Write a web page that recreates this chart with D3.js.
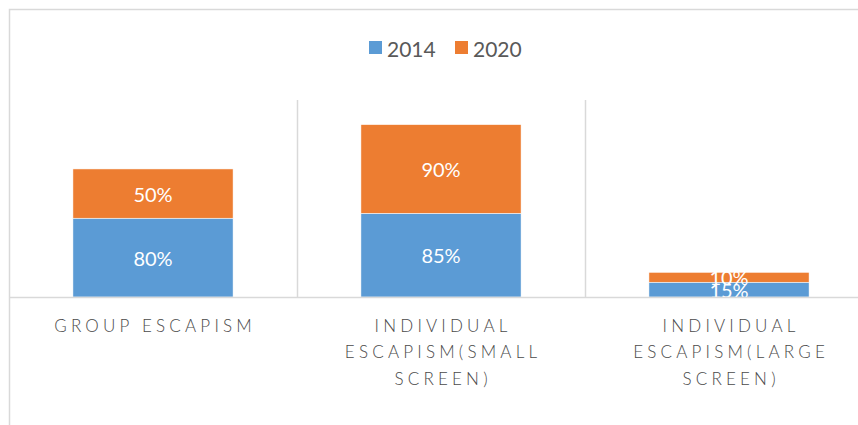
<!DOCTYPE html>
<html>
<head>
<meta charset="utf-8">
<script src="https://cdn.jsdelivr.net/npm/d3@7"></script>
<style>
  body { margin: 0; background: #fff; }
  svg { display: block; font-family: Lato, "Open Sans", sans-serif; }
</style>
</head>
<body>
<div id="chart"></div>
<script>
// chart data
const categories = ["GROUP ESCAPISM", "INDIVIDUAL ESCAPISM(SMALL SCREEN)", "INDIVIDUAL ESCAPISM(LARGE SCREEN)"];
const categoryLines = [
  ["GROUP ESCAPISM"],
  ["INDIVIDUAL", "ESCAPISM(SMALL", "SCREEN)"],
  ["INDIVIDUAL", "ESCAPISM(LARGE", "SCREEN)"]
];
const seriesNames = ["2014", "2020"];
const values2014 = [0.80, 0.85, 0.15];
const values2020 = [0.50, 0.90, 0.10];
const colors = ["#5b9bd5", "#ed7d31"];

const width = 858, height = 425;
const plot = { left: 9, right: 873, top: 100, bottom: 297 };

const svg = d3.select("#chart").append("svg")
  .attr("width", width)
  .attr("height", height);

// chart area border (runs off the right/bottom edge like the original)
svg.append("rect")
  .attr("x", 9.5).attr("y", 9.5)
  .attr("width", 900).attr("height", 500)
  .attr("fill", "none")
  .attr("stroke", "#d9d9d9")
  .attr("stroke-width", 1.5);

const x = d3.scaleBand()
  .domain(categories)
  .range([plot.left, plot.right])
  .paddingInner(0.444)
  .paddingOuter(0.222);

const xCell = d3.scaleBand()
  .domain(categories)
  .range([plot.left, plot.right])
  .padding(0);

const y = d3.scaleLinear()
  .domain([0, 2])
  .range([plot.bottom, plot.top]);

// category separators
svg.append("g")
  .selectAll("line")
  .data(categories.slice(1))
  .join("line")
  .attr("x1", d => Math.round(xCell(d)) + 0.5)
  .attr("x2", d => Math.round(xCell(d)) + 0.5)
  .attr("y1", y(2))
  .attr("y2", y(0))
  .attr("stroke", "#d9d9d9")
  .attr("stroke-width", 1.5);

// stacked data
const table = categories.map((c, i) => ({ cat: c, "2014": values2014[i], "2020": values2020[i] }));
const stacked = d3.stack().keys(seriesNames)(table);

svg.append("defs").append("clipPath")
  .attr("id", "plot-clip")
  .append("rect")
  .attr("x", plot.left).attr("y", plot.top)
  .attr("width", plot.right - plot.left)
  .attr("height", plot.bottom - plot.top);

const layers = svg.append("g")
  .attr("clip-path", "url(#plot-clip)")
  .selectAll("g.layer")
  .data(stacked)
  .join("g")
  .attr("class", "layer")
  .attr("fill", (d, i) => colors[i]);

layers.selectAll("rect")
  .data(d => d)
  .join("rect")
  .attr("x", d => x(d.data.cat))
  .attr("width", x.bandwidth())
  .attr("y", d => y(d[1]))
  .attr("height", d => y(d[0]) - y(d[1]))
  .attr("stroke", "#fff")
  .attr("stroke-width", 0.5);

// data labels (the two small ones overlap, as in the original)
layers.selectAll("text")
  .data(d => d)
  .join("text")
  .attr("x", d => x(d.data.cat) + x.bandwidth() / 2)
  .attr("y", d => (y(d[0]) + y(d[1])) / 2)
  .attr("text-anchor", "middle")
  .attr("dominant-baseline", "central")
  .attr("fill", "#fff")
  .style("font-size", "20px")
  .text(d => d3.format(".0%")(d[1] - d[0]));

// baseline
svg.append("line")
  .attr("x1", plot.left).attr("x2", width)
  .attr("y1", plot.bottom + 0.5).attr("y2", plot.bottom + 0.5)
  .attr("stroke", "#d9d9d9")
  .attr("stroke-width", 1.5);

// category labels
const letterSpacing = 4.2;
svg.append("g")
  .selectAll("text")
  .data(categories)
  .join("text")
  .attr("text-anchor", "middle")
  .attr("fill", "#4a4a4a")
  .style("font-size", "17px")
  .style("font-weight", 300)
  .style("letter-spacing", letterSpacing + "px")
  .each(function (d, i) {
    d3.select(this).selectAll("tspan")
      .data(categoryLines[i])
      .join("tspan")
      .attr("x", xCell(d) + xCell.bandwidth() / 2 + letterSpacing / 2)
      .attr("y", (t, j) => 325 + j * 26.5)
      .attr("dominant-baseline", "central")
      .text(t => t);
  });

// legend
const legend = svg.append("g");
const legendItems = [
  { name: seriesNames[0], color: colors[0], x: 369 },
  { name: seriesNames[1], color: colors[1], x: 455 }
];
legend.selectAll("rect")
  .data(legendItems)
  .join("rect")
  .attr("x", d => d.x)
  .attr("y", 41)
  .attr("width", 13)
  .attr("height", 13)
  .attr("fill", d => d.color);
legend.selectAll("text")
  .data(legendItems)
  .join("text")
  .attr("x", d => d.x + 18)
  .attr("y", 48)
  .attr("dominant-baseline", "central")
  .attr("fill", "#595959")
  .style("font-size", "21px")
  .text(d => d.name);
</script>
</body>
</html>
